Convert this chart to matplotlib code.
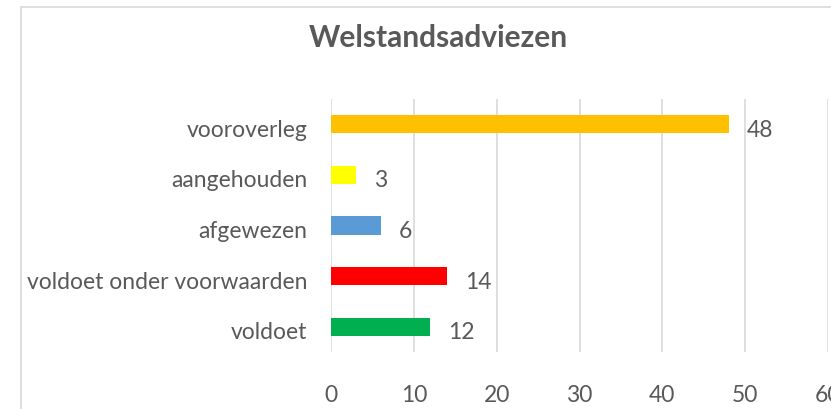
import matplotlib
matplotlib.use("Agg")
import matplotlib.pyplot as plt
import matplotlib.transforms as mtransforms
from matplotlib.patches import Rectangle

categories = ["voldoet", "voldoet onder voorwaarden", "afgewezen", "aangehouden", "vooroverleg"]
values = [12, 14, 6, 3, 48]
colors = ["#00B050", "#FF0000", "#5B9BD5", "#FFFF00", "#FFC000"]
xticks = [0, 10, 20, 30, 40, 50, 60]
title = "Welstandsadviezen"

plt.rcParams['font.family'] = ['Lato', 'DejaVu Sans']
txt = "#595959"

fig = plt.figure(figsize=(8.31, 4.10), dpi=100)
fig.patch.set_facecolor("white")
# chart border (partially cropped)
fig.patches.append(Rectangle((21/831, -0.1), 2.0, (410-7.5)/410 + 0.1, transform=fig.transFigure,
                             fill=False, edgecolor="#D9D9D9", linewidth=1.2))

ax = fig.add_axes([331/831, (410-353)/410, 497/831, 253/410])
ypos = list(range(len(categories)))
ax.barh(ypos, values, height=0.36, color=colors, zorder=3)
ax.set_xlim(0, 60)
ax.set_ylim(-0.5, len(categories) - 0.5)
ax.set_xticks(xticks)
ax.set_xticklabels([str(t) for t in xticks])
ax.set_yticks(ypos)
ax.set_yticklabels(categories)
ax.tick_params(axis='both', length=0, labelsize=16.5, labelcolor=txt)
ax.tick_params(axis='y', pad=17)
ax.tick_params(axis='x', pad=23)
shift = mtransforms.ScaledTranslation(0, -3/100, fig.dpi_scale_trans)
for lab in ax.get_yticklabels():
    lab.set_transform(lab.get_transform() + shift)
for s in ax.spines.values():
    s.set_visible(False)
ax.grid(axis='x', color="#D9D9D9", linewidth=1.2, zorder=0)
ax.set_axisbelow(True)
for y, v in zip(ypos, values):
    ax.annotate(str(v), xy=(v, y), xytext=(18, -5), textcoords='offset pixels',
                ha='left', va='center', fontsize=16.5, color=txt)

fig.text(438/831, 1 - 38/410, title, ha='center', va='center', fontsize=21.5,
         fontweight='bold', color=txt)

fig.savefig("out.png", dpi=100)
